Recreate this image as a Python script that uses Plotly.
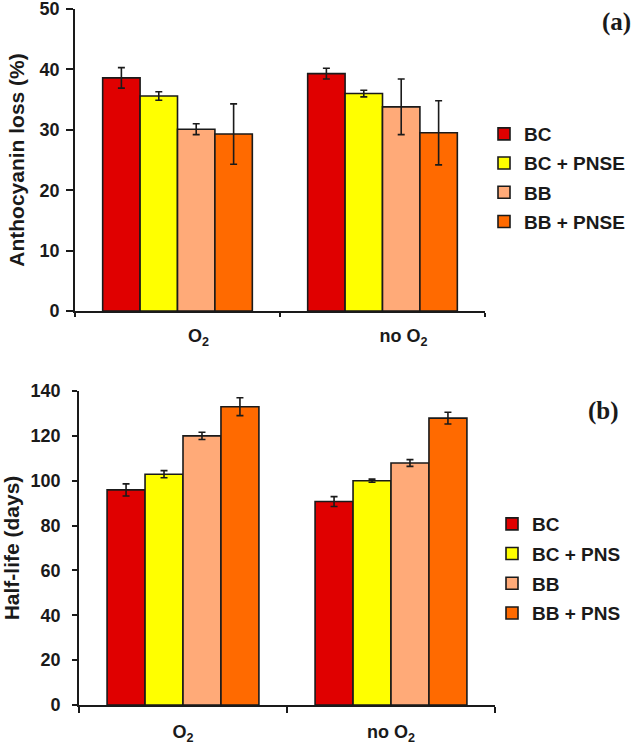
import plotly.graph_objects as go

categories = ["O<sub>2</sub>", "no O<sub>2</sub>"]

# Panel (a): anthocyanin loss (%)
a_series = ["BC", "BC + PNSE", "BB", "BB + PNSE"]
a_values = [[38.6, 39.3], [35.6, 36.0], [30.1, 33.8], [29.3, 29.5]]
a_errors = [[1.7, 0.9], [0.7, 0.55], [0.9, 4.6], [5.0, 5.3]]

# Panel (b): half-life (days)
b_series = ["BC", "BC + PNS", "BB", "BB + PNS"]
b_values = [[95.9, 90.7], [102.9, 100.0], [120.0, 107.9], [133.0, 127.9]]
b_errors = [[2.7, 2.2], [1.6, 0.7], [1.6, 1.5], [4.0, 2.6]]

colors = ["#E00000", "#FFFF00", "#FFAA78", "#FF6A00"]

W, H = 635, 744
INK = "#1a1a1a"
SANS = "Liberation Sans, Arial"
fig = go.Figure()

for i, name in enumerate(a_series):
    fig.add_trace(go.Bar(
        x=categories, y=a_values[i], name=name,
        marker=dict(color=colors[i], line=dict(color=INK, width=1.6)),
        error_y=dict(type="data", array=a_errors[i], color=INK, thickness=1.6, width=3.5),
        xaxis="x", yaxis="y", legend="legend", legendgroup="a" + str(i),
    ))
for i, name in enumerate(b_series):
    fig.add_trace(go.Bar(
        x=categories, y=b_values[i], name=name,
        marker=dict(color=colors[i], line=dict(color=INK, width=1.6)),
        error_y=dict(type="data", array=b_errors[i], color=INK, thickness=1.6, width=3.5),
        xaxis="x2", yaxis="y2", legend="legend2", legendgroup="b" + str(i),
    ))

tickfont = dict(family=SANS, size=18, color=INK, weight="bold")
titlefont = dict(family=SANS, size=21, color=INK, weight="bold")
legfont = dict(family=SANS, size=19, color=INK, weight="bold")


def axis(**kw):
    d = dict(showline=True, linecolor=INK, linewidth=1.6, showgrid=False,
             zeroline=False, automargin=False, tickfont=tickfont,
             ticks="outside", tickwidth=1.6, tickcolor=INK,
             ticklabeloverflow="allow")
    d.update(kw)
    return d


fig.update_layout(
    width=W, height=H,
    margin=dict(l=0, r=0, t=0, b=0),
    paper_bgcolor="white", plot_bgcolor="white",
    barmode="group", bargap=0.27, bargroupgap=0,
    showlegend=True,
    font=dict(family=SANS, color=INK),
    xaxis=axis(domain=[75 / W, 485 / W], anchor="y", tickson="boundaries",
               ticklen=4, ticklabelstandoff=8, ticklabelshift=21),
    yaxis=axis(domain=[1 - 311 / H, 1 - 9 / H], anchor="x", range=[0, 50], dtick=10,
               ticklen=7, ticklabelstandoff=3,
               title=dict(text="Anthocyanin loss (%)", font=titlefont, standoff=9)),
    xaxis2=axis(domain=[79 / W, 495 / W], anchor="y2", tickson="boundaries",
                ticklen=6, ticklabelstandoff=10),
    yaxis2=axis(domain=[1 - 705 / H, 1 - 391 / H], anchor="x2", range=[0, 140], dtick=20,
                ticklen=5, ticklabelstandoff=8,
                title=dict(text="Half-life (days)", font=titlefont, standoff=8)),
    legend=dict(x=484 / W, y=1 - 115 / H, xanchor="left", yanchor="top",
                font=legfont, tracegroupgap=1.5, traceorder="grouped",
                bgcolor="rgba(0,0,0,0)"),
    legend2=dict(x=492 / W, y=1 - 505 / H, xanchor="left", yanchor="top",
                 font=legfont, tracegroupgap=2, traceorder="grouped",
                 bgcolor="rgba(0,0,0,0)"),
    annotations=[
        dict(text="<b>(a)</b>", x=616 / W, y=1 - 22 / H, xref="paper", yref="paper",
             xanchor="center", yanchor="middle", showarrow=False,
             font=dict(family="Liberation Serif, Times New Roman", size=25, color=INK)),
        dict(text="<b>(b)</b>", x=603 / W, y=1 - 411 / H, xref="paper", yref="paper",
             xanchor="center", yanchor="middle", showarrow=False,
             font=dict(family="Liberation Serif, Times New Roman", size=25, color=INK)),
    ],
)

fig.write_html("out.html", config={"displayModeBar": False},
               post_script="document.body.style.margin='0';document.body.style.overflow='hidden';")
